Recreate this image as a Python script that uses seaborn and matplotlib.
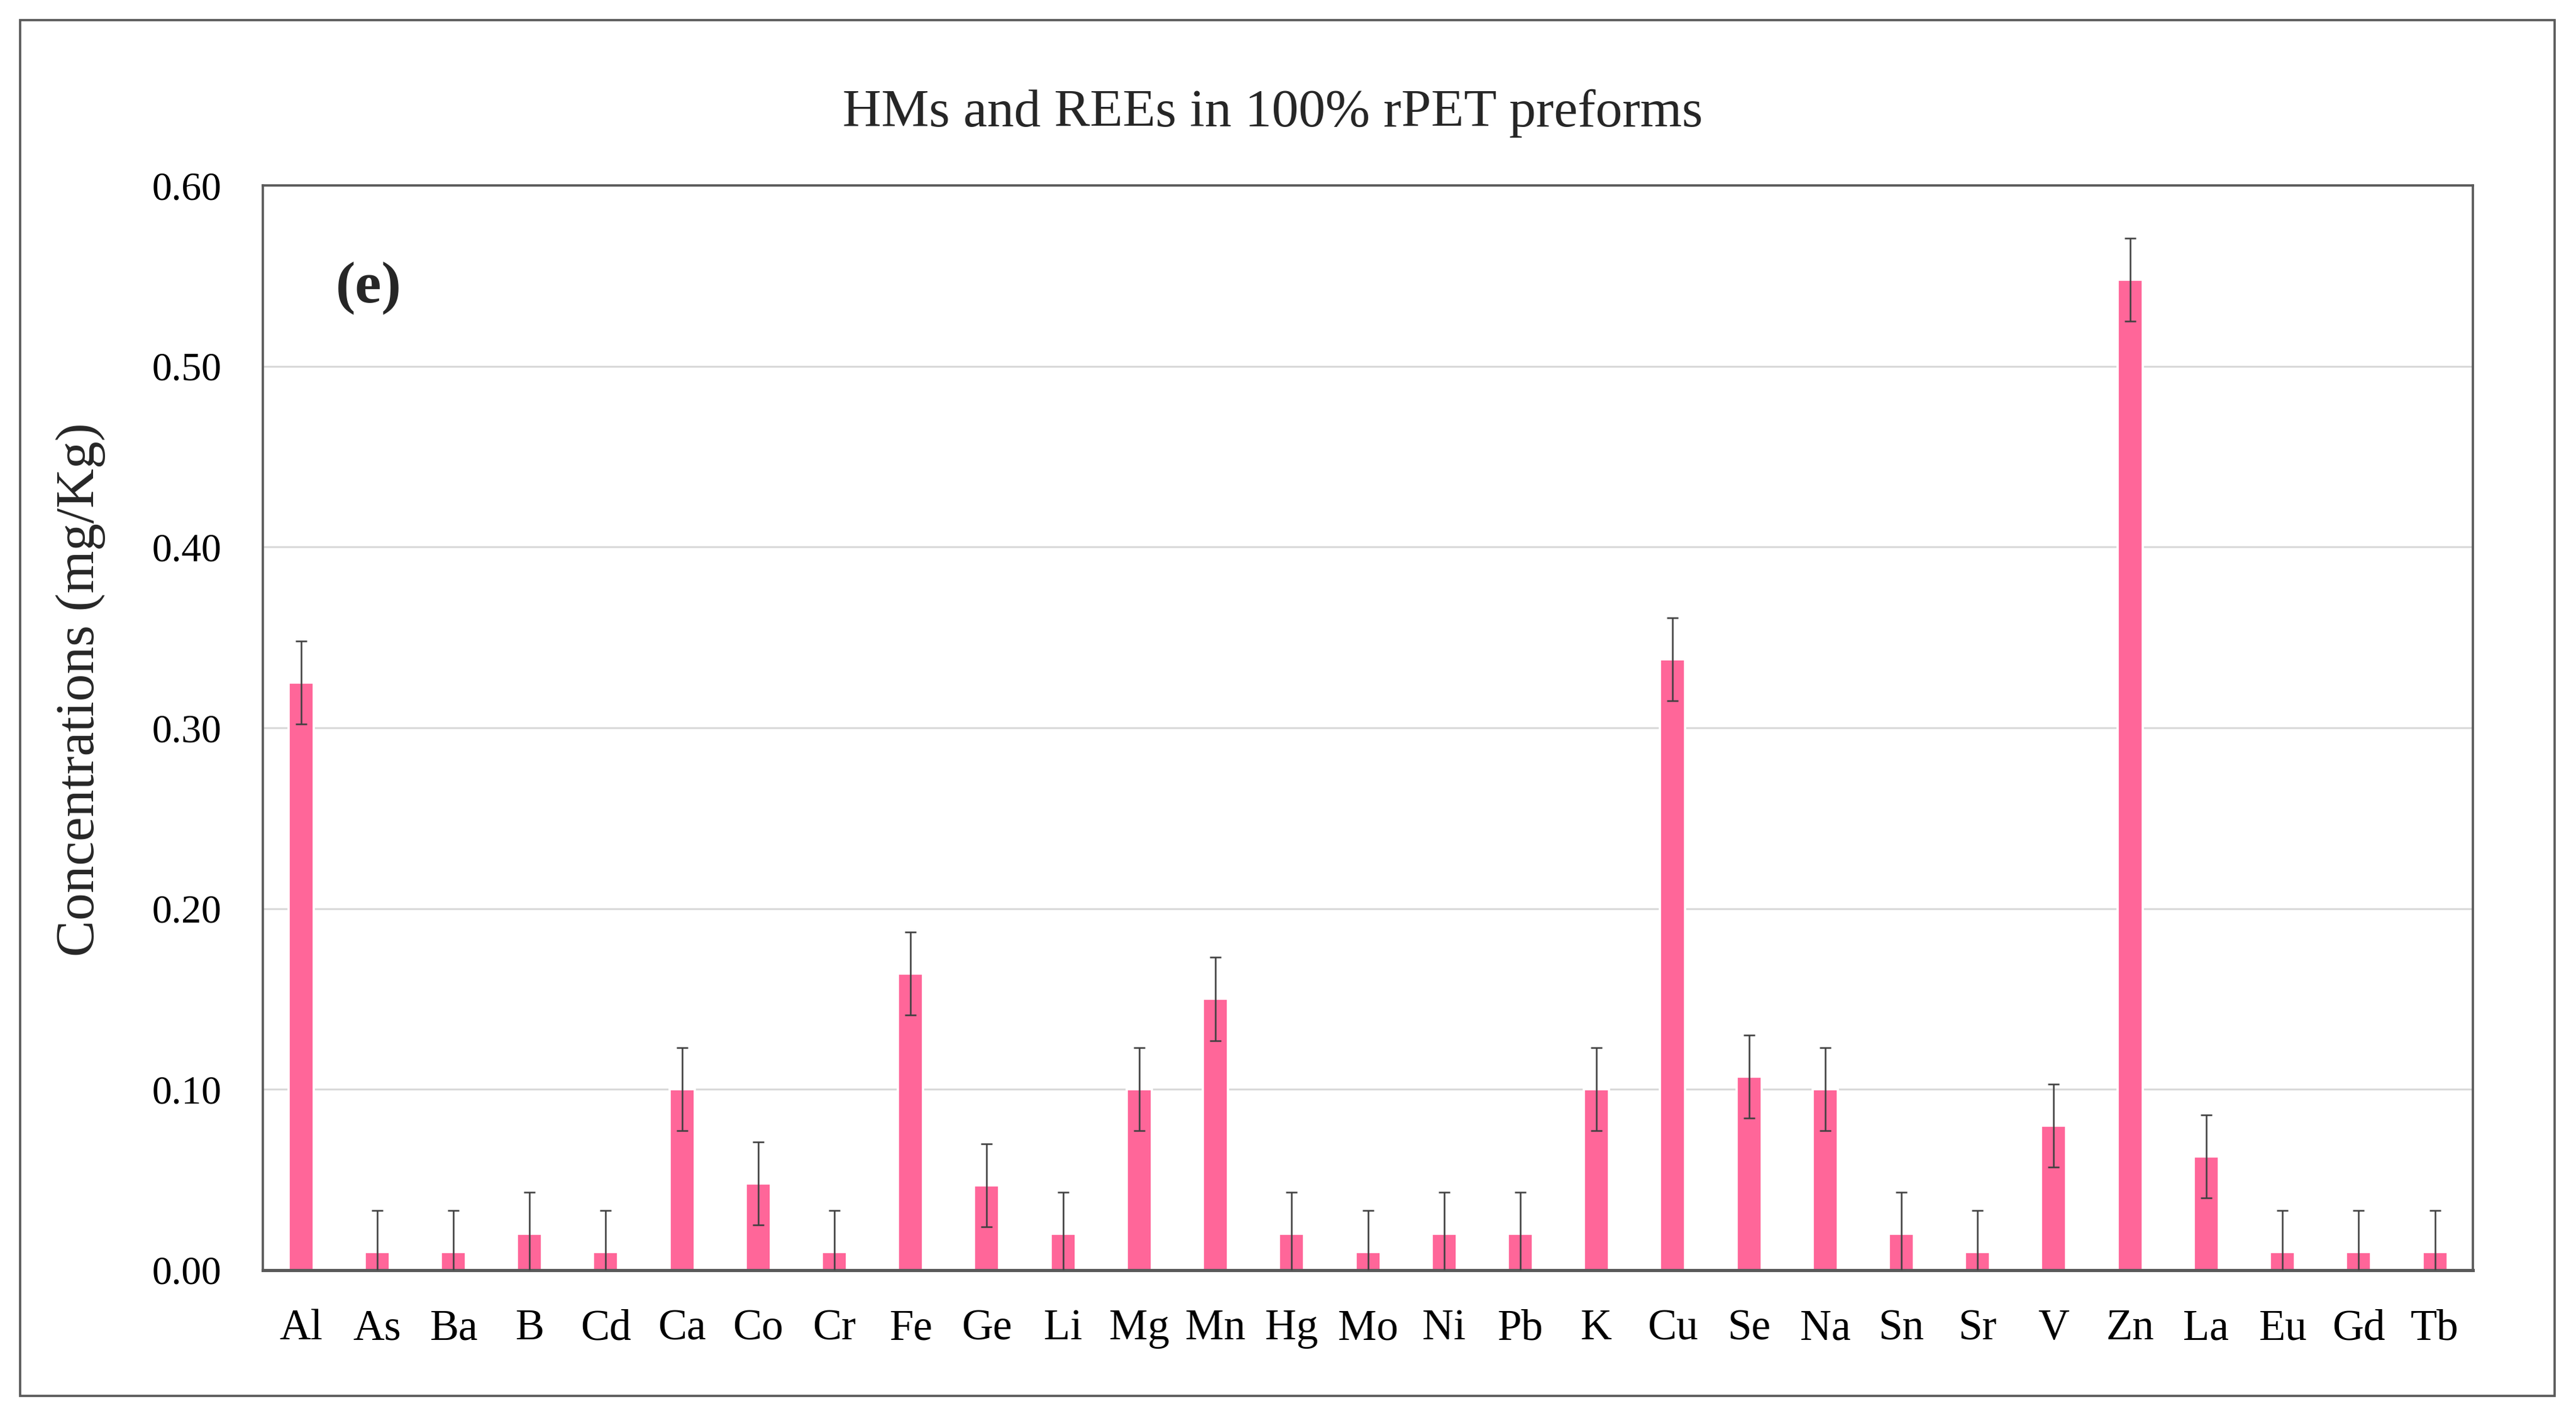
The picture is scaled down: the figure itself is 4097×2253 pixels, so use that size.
import numpy as np
import pandas as pd
import matplotlib
matplotlib.use("Agg")
import matplotlib.pyplot as plt
import seaborn as sns
from matplotlib.patches import Rectangle
from matplotlib.ticker import FormatStrFormatter

# ─── Data ───────────────────────────────────────────────────────────────
elements = ["Al", "As", "Ba", "B", "Cd", "Ca", "Co", "Cr", "Fe", "Ge",
            "Li", "Mg", "Mn", "Hg", "Mo", "Ni", "Pb", "K", "Cu", "Se",
            "Na", "Sn", "Sr", "V", "Zn", "La", "Eu", "Gd", "Tb"]
concentrations = [0.325, 0.010, 0.010, 0.020, 0.010, 0.100, 0.048, 0.010, 0.164, 0.047,
                  0.020, 0.100, 0.150, 0.020, 0.010, 0.020, 0.020, 0.100, 0.338, 0.107,
                  0.100, 0.020, 0.010, 0.080, 0.548, 0.063, 0.010, 0.010, 0.010]
errors = [0.023] * len(elements)

y_ticks = [0.0, 0.1, 0.2, 0.3, 0.4, 0.5, 0.6]

BAR_COLOR = "#FF6699"
EDGE_GRAY = "#595959"
GRID_GRAY = "#D9D9D9"
SERIF = ["Liberation Serif", "DejaVu Serif"]

df = pd.DataFrame({"element": elements, "conc": concentrations, "err": errors})

# ─── Figure ─────────────────────────────────────────────────────────────
sns.set_theme(style="white")
plt.rcParams["font.family"] = SERIF

DPI = 261.3
fig = plt.figure(figsize=(4097 / DPI, 2253 / DPI), dpi=DPI)
ax = fig.add_axes([0.102, 0.103, 0.858, 0.766])

sns.barplot(data=df, x="element", y="conc", color=BAR_COLOR, saturation=1,
            width=0.33, errorbar=None, ax=ax, zorder=2)
ax.errorbar(np.arange(len(df)), df["conc"], yerr=df["err"], fmt="none",
            ecolor="#404040", elinewidth=0.7, capsize=2.6, capthick=0.7, zorder=3)

ax.set_ylim(0, 0.6)
ax.set_xlim(-0.5, len(df) - 0.5)
ax.set_yticks(y_ticks)
ax.yaxis.set_major_formatter(FormatStrFormatter("%.2f"))
ax.grid(axis="y", color=GRID_GRAY, linewidth=0.8, zorder=0)
ax.set_axisbelow(True)
for s in ax.spines.values():
    s.set_color(EDGE_GRAY)
    s.set_linewidth(1.0)
ax.spines["bottom"].set_linewidth(1.4)
ax.tick_params(axis="y", length=0, labelsize=17.5, colors="black", pad=18)
ax.tick_params(axis="x", length=0, labelsize=19, colors="black", pad=17)

ax.set_xlabel("")
ax.set_ylabel("Concentrations (mg/Kg)", fontsize=24)
ax.yaxis.set_label_coords(-0.071, 0.535)

# title is centred on the whole chart frame, not on the plot area
fig.text(0.494, 0.92, "HMs and REEs in 100% rPET preforms", fontsize=23.5,
         ha="center", va="center")
ax.text(0.033, 0.905, "(e)", transform=ax.transAxes, fontsize=26,
        fontweight="bold", va="center", ha="left")

# outer chart frame
fig.patches.append(Rectangle((0.0077, 0.014), 0.984, 0.972, transform=fig.transFigure,
                             fill=False, edgecolor=EDGE_GRAY, linewidth=1.0))

fig.savefig("out.png", dpi=DPI, facecolor="white")
